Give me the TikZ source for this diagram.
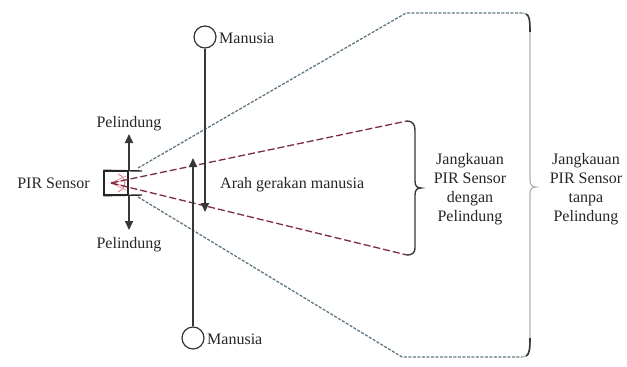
\documentclass[tikz,border=0pt]{standalone}
\usepackage{fontspec}
\setmainfont{Liberation Serif}
\usetikzlibrary{arrows.meta}
\definecolor{greyline}{RGB}{95,120,130}
\definecolor{redline}{RGB}{125,45,60}
\definecolor{pinkish}{RGB}{220,120,150}
\definecolor{darkarrow}{RGB}{55,55,55}
\tikzset{
  lbl/.style={font=\fontsize{16}{19}\selectfont, inner sep=0pt, text=black!85},
  rangeline/.style={greyline, line width=1.3pt, dash pattern=on 3pt off 1.5pt},
  redray/.style={redline, line width=1.3pt, dash pattern=on 7pt off 3pt},
  movearrow/.style={darkarrow, line width=2pt, -{Triangle[length=9pt,width=8pt]}},
  bracered/.style={darkarrow, line width=1.4pt},
  bracegrey/.style={black!30, line width=1.2pt},
  person/.style={circle, draw=black!80, line width=1.2pt, minimum size=22pt, inner sep=0pt},
}
\begin{document}
\begin{tikzpicture}[x=1pt,y=-1pt]
\useasboundingbox (0,0) rectangle (627,367);
% sensor
\node[draw=black!85, line width=1.4pt, minimum width=24pt, minimum height=24pt, inner sep=0pt] (sensor) at (116,183) {};
\draw[black!85, line width=1.4pt] (sensor.north west) -- (142,171);
\draw[black!85, line width=1.4pt] (sensor.south west) -- (142,195);
\coordinate (focus) at (111,183);
\draw[pinkish, line width=0.9pt] (118,174) .. controls (127,178) and (127,188) .. (118,192);
\foreach \yy in {176,180,186,190} \draw[pinkish, line width=0.6pt] (focus) -- (126,\yy);
\node[lbl, anchor=east] (sensorlbl) at (90,183) {PIR Sensor};
% shields
\coordinate (shtop) at (129,171);
\coordinate (shbot) at (129,195);
\node[lbl] (pel1) at (129,124) {Pelindung};
\node[lbl] (pel2) at (129,245) {Pelindung};
\draw[movearrow] (shtop) -- (129,134);
\draw[movearrow] (shbot) -- (129,230);
% outer range (grey)
\coordinate (gs1) at (138,168);
\coordinate (gs2) at (138,197);
\coordinate (gt1) at (406,13);
\coordinate (gt2) at (402,357);
\coordinate (gh1) at (522,13);
\coordinate (gh2) at (522,357);
\draw[rangeline] (gs1) -- (gt1) -- (gh1);
\draw[rangeline] (gs2) -- (gt2) -- (gh2);
% inner range (red)
\coordinate (rt1) at (407,121);
\coordinate (rt2) at (407,255);
\draw[redray] (focus) -- (rt1);
\draw[redray] (focus) -- (rt2);
% red brace
\draw[bracered] (rt1) .. controls (412,121) and (415,124) .. (415,130) -- (415,181)
  .. controls (415,186) and (417,188) .. (421,188)
  .. controls (417,188) and (415,190) .. (415,195) -- (415,248)
  .. controls (415,253) and (412,255) .. (rt2);
% big brace
\draw[bracegrey] (gh1) .. controls (527,13) and (530,17) .. (530,24) -- (530,180)
  .. controls (530,185) and (532,187) .. (536,187)
  .. controls (532,187) and (530,189) .. (530,194) -- (530,346)
  .. controls (530,353) and (527,357) .. (gh2);
\draw[darkarrow, line width=1.6pt] (526,14) .. controls (529,15) and (530,19) .. (530,32);
\draw[darkarrow, line width=1.6pt] (530,338) .. controls (530,350) and (529,355) .. (526,356);
% people
\node[person] (man1) at (205,37) {};
\node[lbl, anchor=west] (man1lbl) at (219,38) {Manusia};
\node[person] (man2) at (193,338) {};
\node[lbl, anchor=west] (man2lbl) at (207,339) {Manusia};
\draw[movearrow] (man1.south) -- (205,212);
\draw[movearrow] (man2.north) -- (193,158);
\node[lbl, anchor=west] (arah) at (220,185) {Arah gerakan manusia};
% range labels
\node[lbl, align=center] (j1) at (470,189) {Jangkauan\\PIR Sensor\\dengan\\Pelindung};
\node[lbl, align=center] (j2) at (586,189) {Jangkauan\\PIR Sensor\\tanpa\\Pelindung};
\end{tikzpicture}
\end{document}
